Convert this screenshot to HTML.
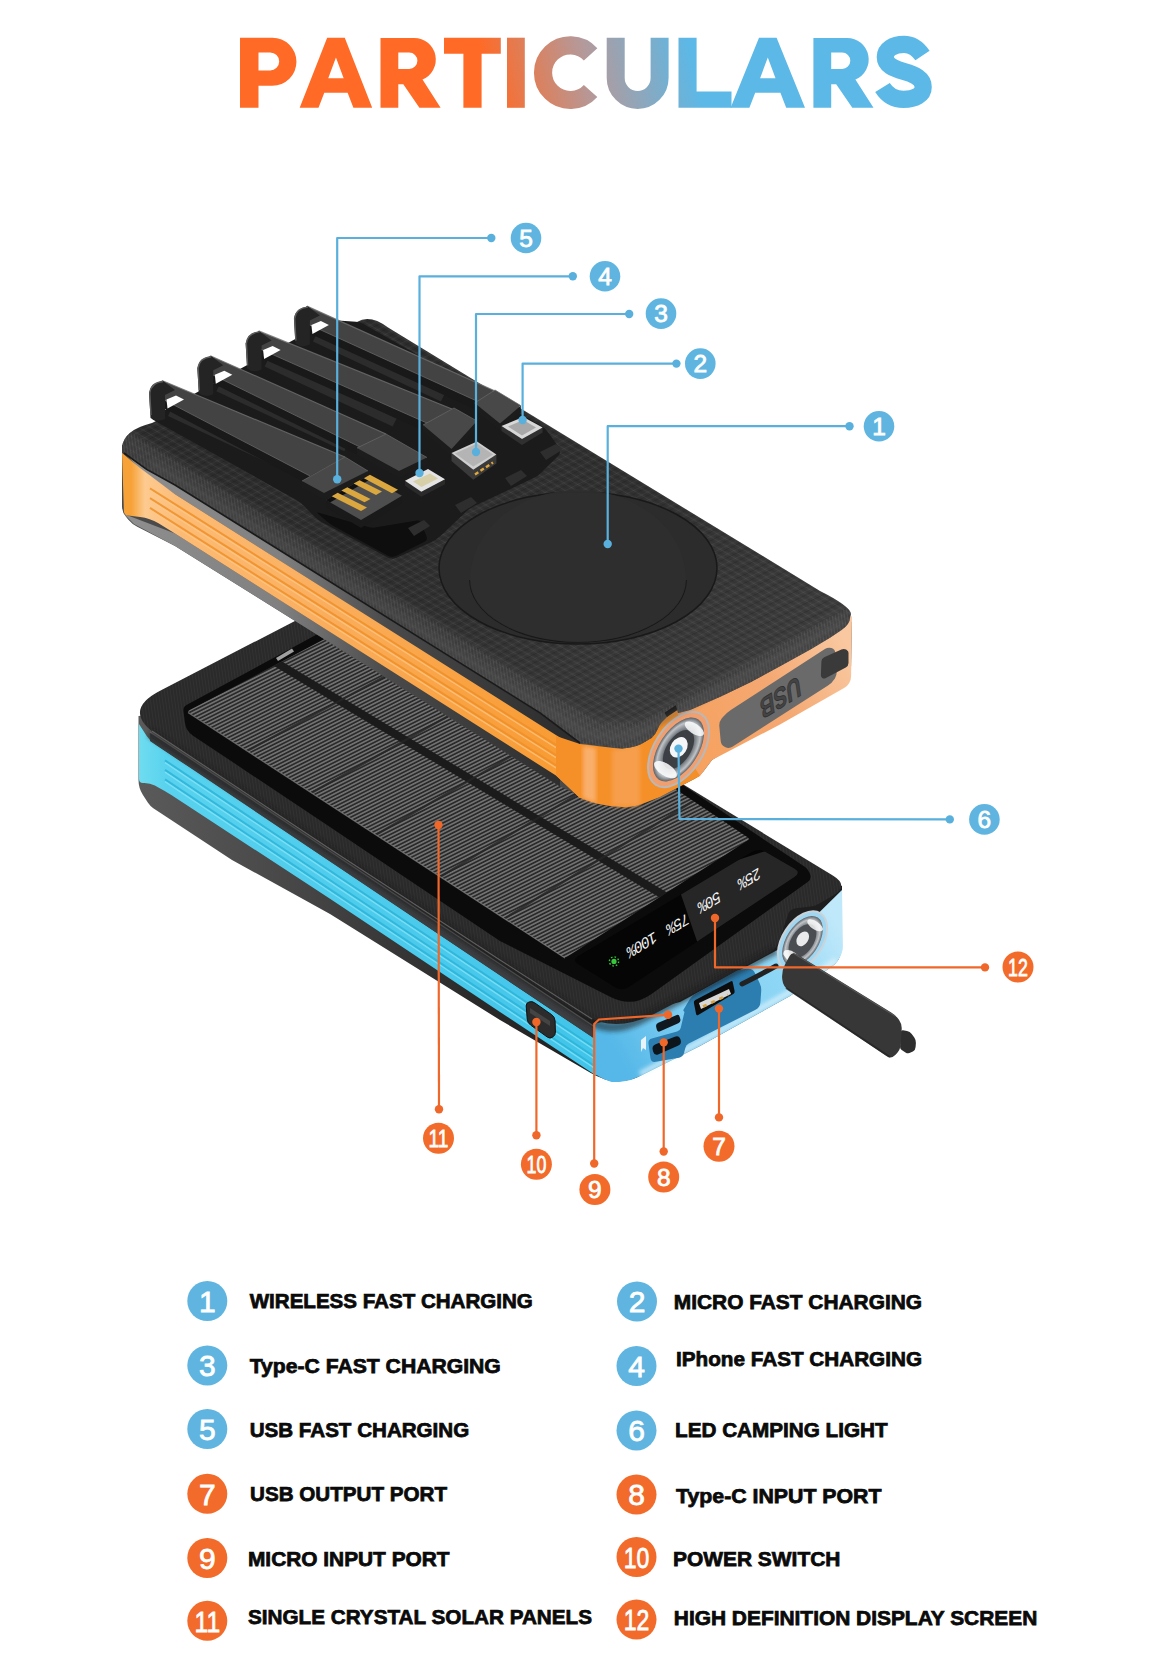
<!DOCTYPE html>
<html><head><meta charset="utf-8"><title>Particulars</title>
<style>
html,body{margin:0;padding:0;background:#fff;}
body{width:1170px;height:1671px;overflow:hidden;font-family:"Liberation Sans",sans-serif;}
svg{display:block;font-family:"Liberation Sans",sans-serif;}
</style></head><body>
<svg width="1170" height="1671" viewBox="0 0 1170 1671">
<defs>
<linearGradient id="tg" gradientUnits="userSpaceOnUse" x1="490" y1="95" x2="690" y2="50">
<stop offset="0" stop-color="#ff6a26"/><stop offset="0.5" stop-color="#b39a9c"/><stop offset="1" stop-color="#5cb8e6"/>
</linearGradient>

<pattern id="solar" width="3.9" height="10" patternUnits="userSpaceOnUse" patternTransform="matrix(0.851,0.525,-0.894,0.447,0,0)">
<rect width="3.9" height="10" fill="#2a2a2a"/><rect x="0" width="1.9" height="10" fill="#727272"/>
</pattern>
<pattern id="hatch" width="9" height="7" patternUnits="userSpaceOnUse" patternTransform="matrix(0.857,0.515,0.894,-0.447,0,0)">
<rect width="9" height="7" fill="none"/><rect width="9" height="1.1" fill="#fff" opacity="0.05"/><rect width="1.1" height="7" fill="#fff" opacity="0.045"/><rect x="4" width="1.2" height="7" fill="#000" opacity="0.13"/><rect y="3.4" width="9" height="1.1" fill="#000" opacity="0.11"/>
</pattern>
<linearGradient id="frontbevel" gradientUnits="userSpaceOnUse" x1="300" y1="563" x2="287" y2="584">
<stop offset="0" stop-color="#5a5a5a" stop-opacity="0"/><stop offset="0.55" stop-color="#5c5c5c" stop-opacity="0.55"/><stop offset="1" stop-color="#3a3a3a" stop-opacity="0.3"/>
</linearGradient>
<pattern id="brush" width="3" height="40" patternUnits="userSpaceOnUse" patternTransform="rotate(-8)">
<rect x="0" width="1" height="40" fill="#fff" opacity="0.06"/><rect x="1.6" width="0.8" height="40" fill="#000" opacity="0.15"/>
</pattern>
<linearGradient id="blueside" x1="0" y1="0" x2="1" y2="0">
<stop offset="0" stop-color="#6fdcf0"/><stop offset="0.06" stop-color="#58d2ee"/><stop offset="1" stop-color="#41c4ea"/>
</linearGradient>
<linearGradient id="orangeside" x1="0" y1="0" x2="1" y2="0">
<stop offset="0" stop-color="#f6a238"/><stop offset="0.02" stop-color="#f6a238"/><stop offset="0.05" stop-color="#fdca90"/><stop offset="0.13" stop-color="#fcbb74"/><stop offset="0.4" stop-color="#fab061"/><stop offset="0.75" stop-color="#f9a242"/><stop offset="1" stop-color="#f89a30"/>
</linearGradient>
<linearGradient id="blueR" gradientUnits="userSpaceOnUse" x1="620" y1="1060" x2="840" y2="930">
<stop offset="0" stop-color="#55b8e8"/><stop offset="0.3" stop-color="#7ecdf2"/><stop offset="0.7" stop-color="#8ed6f5"/><stop offset="1" stop-color="#bfe8fa"/>
</linearGradient>
<linearGradient id="orangeR" gradientUnits="userSpaceOnUse" x1="600" y1="790" x2="850" y2="650">
<stop offset="0" stop-color="#f58a1e"/><stop offset="0.25" stop-color="#f7a05a"/><stop offset="0.7" stop-color="#f4a872"/><stop offset="1" stop-color="#f9c8a0"/>
</linearGradient>
<linearGradient id="grayband" gradientUnits="userSpaceOnUse" x1="130" y1="0" x2="560" y2="0">
<stop offset="0" stop-color="#8e8e8e"/><stop offset="0.35" stop-color="#808080"/><stop offset="0.6" stop-color="#4a4a4a"/><stop offset="1" stop-color="#2e2e2e"/>
</linearGradient>
<linearGradient id="botband" gradientUnits="userSpaceOnUse" x1="140" y1="0" x2="620" y2="0">
<stop offset="0" stop-color="#5a5a5a"/><stop offset="0.35" stop-color="#454545"/><stop offset="0.7" stop-color="#2a2a2a"/><stop offset="1" stop-color="#1e1e1e"/>
</linearGradient>
<radialGradient id="led" cx="0.5" cy="0.5" r="0.5">
<stop offset="0" stop-color="#ffffff"/><stop offset="0.35" stop-color="#c8cdd2"/><stop offset="0.6" stop-color="#6a7076"/><stop offset="0.85" stop-color="#c0c4c8"/><stop offset="1" stop-color="#5a5f64"/>
</radialGradient>
<linearGradient id="topface" gradientUnits="userSpaceOnUse" x1="300" y1="330" x2="600" y2="760">
<stop offset="0" stop-color="#2c2c2c"/><stop offset="0.6" stop-color="#313131"/><stop offset="1" stop-color="#3c3c3c"/>
</linearGradient>
<filter id="soft" x="-5%" y="-5%" width="110%" height="110%"><feGaussianBlur stdDeviation="0.6"/></filter>
<filter id="blur2" x="-10%" y="-10%" width="120%" height="120%"><feGaussianBlur stdDeviation="2"/></filter>
<filter id="blur4" x="-20%" y="-20%" width="140%" height="140%"><feGaussianBlur stdDeviation="4"/></filter>

</defs>
<rect width="1170" height="1671" fill="#fff"/>
<g fill="url(#tg)" stroke="none">
<path fill-rule="evenodd" d="M240,37.7 H272.4 A24.05,24.05 0 0 1 272.4,85.8 H258.5 V107.8 H240 Z M258.5,52.4 H270.2 A9,9 0 0 1 270.2,70.4 H258.5 Z"/>
<path fill-rule="evenodd" d="M299.7,107.8 L327.15,37.7 H344.75 L372.2,107.8 H353.4 L347.59999999999997,92.8 H324.3 L318.5,107.8 Z M328.25,78.2 H343.65 L335.95,57.4 Z"/>
<path fill-rule="evenodd" d="M380.5,37.9 H414.2 A21.7,21.7 0 0 1 422.5,79.6 L440.6,107.8 H419.4 L403.3,84.2 H398.3 V107.8 H380.5 Z M398.3,52.6 H409.2 A8.2,8.2 0 0 1 409.2,69 H398.3 Z"/>
<path d="M444,37.7 H500.8 V53.8 H481.6 V107.8 H463.4 V53.8 H444 Z"/>
<rect x="507" y="37.7" width="17.8" height="70.1"/>
</g>
<path d="M590.6,54.4 A27.3,27.3 0 1 0 590.6,91.0" fill="none" stroke="url(#tg)" stroke-width="18.2"/>
<path d="M615.7,37.7 V78 A21.95,21.95 0 0 0 659.6,78 V37.7" fill="none" stroke="url(#tg)" stroke-width="18"/>
<g fill="url(#tg)">
<path d="M678.5,37.7 H696.6 V91.6 H731.5 V107.8 H678.5 Z"/>
<path fill-rule="evenodd" d="M730.6,107.8 L759.0,37.7 H776.5999999999999 L805,107.8 H786.2 L780.4,92.8 H755.2 L749.4,107.8 Z M760.0999999999999,78.2 H775.5 L767.8,57.4 Z"/>
<path fill-rule="evenodd" d="M813.4,37.9 H847.1 A21.7,21.7 0 0 1 855.4,79.6 L873.5,107.8 H852.3 L836.1999999999999,84.2 H831.1999999999999 V107.8 H813.4 Z M831.1999999999999,52.6 H842.1 A8.2,8.2 0 0 1 842.1,69 H831.1999999999999 Z"/>
</g>
<path d="M922.5,55.5 C917,47.5 911,44.3 904,44.3 C893,44.3 885.3,49.5 885.3,57 C885.3,65 893,68.3 904,71.5 C915,74.7 923.2,78.5 923.2,87 C923.2,95 915,99.4 903.5,99.4 C894.5,99.4 887.5,95.5 882.5,87.5" fill="none" stroke="url(#tg)" stroke-width="17.2"/>
<path d="M138.5,716.0 L138.5,780.0 Q138.5,788.0 142.8,794.7 L147.8,802.6 Q150.0,806.0 153.3,808.2 L232.0,860.0 L330.0,914.0 L500.0,1020.0 L590.8,1073.0 Q596.0,1076.0 601.6,1078.1 L604.5,1079.2 Q612.0,1082.0 620.0,1081.2 L626.0,1080.6 Q632.0,1080.0 637.4,1077.3 L700.0,1046.0 L790.0,996.0 L833.1,965.5 Q838.0,962.0 839.9,956.3 L840.7,953.8 Q842.0,950.0 842.0,946.0 L842.0,886.0 L700.0,840.0 L300.0,700.0 Z" fill="url(#botband)" />
<path d="M139.0,724.0 L146.7,736.0 Q150.0,741.0 155.0,744.3 L190.0,767.6 L600.0,1042.3 L606.0,1070.0 L596.0,1075.5 L500.0,1012.0 L330.0,898.8 L171.7,795.3 Q165.0,790.9 157.9,787.2 L154.9,785.6 Q150.0,783.0 144.5,783.0 L143.0,783.0 Q139.0,783.0 139.0,779.0 Z" fill="url(#blueside)" />
<path d="M165,760.4 L596,1048.7" stroke="#2cb4d8" stroke-width="2" opacity="0.85" fill="none"/>
<path d="M165,762.6 L596,1050.9" stroke="#8be6f6" stroke-width="1.4" opacity="0.7" fill="none"/>
<path d="M165,769.9 L596,1057.8" stroke="#2cb4d8" stroke-width="2" opacity="0.85" fill="none"/>
<path d="M165,772.1 L596,1060.0" stroke="#8be6f6" stroke-width="1.4" opacity="0.7" fill="none"/>
<path d="M165,779.4 L596,1066.9" stroke="#2cb4d8" stroke-width="2" opacity="0.85" fill="none"/>
<path d="M165,781.6 L596,1069.1" stroke="#8be6f6" stroke-width="1.4" opacity="0.7" fill="none"/>
<polygon points="150.0,732.0 600.0,1030.3 600.0,1042.3 190.0,767.6 150.0,741.0" fill="#3d3f42" />
<path d="M150,732 L600,1030.3" stroke="#8a8a8a" stroke-width="1.2" opacity="0.8"/>
<path d="M594.0,1024.0 L640.0,1012.0 L680.0,1002.0 L785.0,946.0 L842.0,890.0 L842.9,946.0 Q843.0,950.0 841.5,953.7 L840.3,956.5 Q838.0,962.0 833.1,965.5 L790.0,996.0 L700.0,1046.0 L639.2,1076.4 Q632.0,1080.0 624.1,1081.2 L619.9,1081.8 Q612.0,1083.0 604.8,1079.4 L599.4,1076.7 Q594.0,1074.0 594.0,1068.0 Z" fill="url(#blueR)" />
<path d="M640,1074 L700,1042 L790,992 L836,960" stroke="#e6f6fd" stroke-width="5" fill="none" opacity="0.75" filter="url(#blur2)"/>
<path d="M683.8,1011.2 Q683.0,1010.4 683.6,1009.5 L689.6,999.4 Q691.7,996.0 695.2,994.0 L735.4,971.2 Q738.0,969.7 741.0,969.4 L747.7,968.8 Q752.7,968.3 754.8,972.8 L759.8,983.4 Q761.5,987.0 761.2,991.0 L760.4,1002.5 Q760.0,1007.5 755.5,1009.8 L688.7,1043.6 Q686.0,1045.0 685.3,1047.9 L684.0,1053.1 Q683.0,1057.0 679.1,1057.7 L655.9,1061.8 Q651.0,1062.7 650.4,1057.7 L648.5,1043.5 Q648.0,1039.5 651.9,1038.5 L677.1,1031.6 Q680.0,1030.8 680.7,1027.9 L684.5,1012.0 Z" fill="#2c7db0" />
<path d="M693.9,1003.0 Q693.5,1001.0 695.3,1000.1 L730.6,981.4 Q732.4,980.5 732.8,982.5 L734.6,991.0 Q735.0,993.0 733.3,994.0 L698.2,1015.0 Q696.5,1016.0 696.1,1014.0 Z" fill="#0d0d0d" />
<polygon points="699.0,1003.0 729.0,989.0 731.0,994.0 701.0,1009.0" fill="#d8d8d8" />
<path d="M703,1006.5 L728,995" stroke="#d9a23c" stroke-width="2.6" stroke-dasharray="4 5"/>
<path d="M656.2,1026.9 Q655.5,1024.0 658.3,1022.8 L676.2,1015.2 Q679.0,1014.0 679.7,1016.9 L680.3,1019.1 Q681.0,1022.0 678.3,1023.2 L660.2,1031.3 Q657.5,1032.5 656.8,1029.6 Z" fill="#101820" />
<path d="M652.8,1050.3 Q651.5,1046.0 655.7,1044.3 L674.8,1036.7 Q679.0,1035.0 680.4,1039.3 L680.6,1039.7 Q682.0,1044.0 677.9,1045.8 L658.6,1054.2 Q654.5,1056.0 653.2,1051.7 Z" fill="#0c141c" />
<polygon points="641.0,1040.0 646.0,1036.0 646.0,1050.0 643.0,1048.0 641.0,1052.0" fill="#e8f4fa" />
<path d="M526.2,1006.0 Q526.0,1003.0 528.8,1002.1 L529.2,1001.9 Q532.0,1001.0 534.5,1002.7 L551.7,1014.7 Q555.0,1017.0 555.1,1021.0 L555.4,1032.0 Q555.5,1035.0 553.1,1036.8 L552.4,1037.2 Q550.0,1039.0 547.6,1037.3 L530.8,1025.3 Q527.5,1023.0 527.2,1019.0 Z" fill="#2c2c2c" stroke="#111" stroke-width="1"/>
<polygon points="530.0,1008.0 550.0,1021.0 550.0,1026.0 530.0,1013.0" fill="#444" />
<path d="M157.7,735.3 Q121.0,711.0 160.1,690.8 L372.0,581.0 L400.0,612.0 L832.8,875.5 Q850.0,886.0 832.5,896.0 L818.5,904.0 Q815.0,906.0 811.0,906.5 L796.0,908.3 Q790.0,909.0 788.1,914.7 L779.2,940.5 Q776.0,950.0 767.1,954.6 L654.5,1013.7 Q612.0,1036.0 572.0,1009.5 Z" fill="#2b2b2b" />
<path d="M157.7,735.3 Q121.0,711.0 160.1,690.8 L372.0,581.0 L400.0,612.0 L832.8,875.5 Q850.0,886.0 832.5,896.0 L818.5,904.0 Q815.0,906.0 811.0,906.5 L796.0,908.3 Q790.0,909.0 788.1,914.7 L779.2,940.5 Q776.0,950.0 767.1,954.6 L654.5,1013.7 Q612.0,1036.0 572.0,1009.5 Z" fill="url(#brush)" opacity="0.55"/>
<path d="M150,733 L330,851 L500,962.3 L590,1021 Q612,1034 640,1020 L776,950" fill="none" stroke="#1a1a1a" stroke-width="9" opacity="0.55" filter="url(#blur2)"/>
<path d="M152,731 L330,849 L500,960 L592,1019" fill="none" stroke="#777" stroke-width="1.1" opacity="0.7"/>
<path d="M183.5,711.0 Q183.0,707.0 186.5,705.1 L391.5,593.9 Q395.0,592.0 398.3,594.2 L804.7,866.8 Q808.0,869.0 809.5,872.7 L810.0,874.0 Q812.0,879.0 807.6,882.1 L651.5,994.0 Q632.0,1008.0 610.6,997.1 L500.0,941.0 L330.0,827.0 L192.7,735.4 Q186.0,731.0 185.0,723.1 Z" fill="#0b0b0b" />
<path d="M189.5,713.1 Q187.0,711.5 189.7,710.1 L392.9,603.0 Q395.6,601.6 398.1,603.3 L747.5,837.3 Q750.0,839.0 747.5,840.6 L567.5,956.4 Q565.0,958.0 562.5,956.4 Z" fill="url(#solar)" />
<clipPath id="solclip"><path d="M189.5,713.1 Q187.0,711.5 189.7,710.1 L392.9,603.0 Q395.6,601.6 398.1,603.3 L747.5,837.3 Q750.0,839.0 747.5,840.6 L567.5,956.4 Q565.0,958.0 562.5,956.4 Z"/></clipPath>
<path clip-path="url(#solclip)" d="M243,642.8 L680,905" fill="none" stroke="#1b1b1b" stroke-width="8"/>
<path d="M247.5,750.9 L452.3,639.6" stroke="#262626" stroke-width="2.2" opacity="0.8"/>
<path d="M311.7,792.8 L512.6,679.9" stroke="#262626" stroke-width="2.2" opacity="0.8"/>
<path d="M376.0,834.8 L572.8,720.3" stroke="#262626" stroke-width="2.2" opacity="0.8"/>
<path d="M440.3,876.7 L633.0,760.7" stroke="#262626" stroke-width="2.2" opacity="0.8"/>
<path d="M504.5,918.6 L693.3,801.0" stroke="#262626" stroke-width="2.2" opacity="0.8"/>
<path d="M188,712.5 L565,958" stroke="#8a8a8a" stroke-width="1.2" opacity="0.7"/>
<polygon points="276.0,658.0 292.0,648.5 294.0,651.5 278.0,661.0" fill="#a0a0a0" />
<path d="M578.3,964.2 Q571.5,960.0 578.4,955.9 L751.9,852.0 Q758.8,847.9 765.7,851.9 L794.3,868.5 Q801.2,872.5 794.5,876.9 L628.7,987.1 Q622.0,991.5 615.2,987.3 Z" fill="#050505" />
<clipPath id="dclip"><path d="M578.3,964.2 Q571.5,960.0 578.4,955.9 L751.9,852.0 Q758.8,847.9 765.7,851.9 L794.3,868.5 Q801.2,872.5 794.5,876.9 L628.7,987.1 Q622.0,991.5 615.2,987.3 Z"/></clipPath>
<polygon clip-path="url(#dclip)" points="676,880 700,950 830,900 800,840" fill="#262626"/>
<text transform="translate(748.5,873.5) rotate(149) skewX(-18)" font-size="15.5" fill="#f4f4f4" text-anchor="middle" font-family="Liberation Mono" letter-spacing="-1.2">25%</text>
<text transform="translate(708.5,897) rotate(149) skewX(-18)" font-size="15.5" fill="#f4f4f4" text-anchor="middle" font-family="Liberation Mono" letter-spacing="-1.2">50%</text>
<text transform="translate(677,919) rotate(149) skewX(-18)" font-size="15.5" fill="#f4f4f4" text-anchor="middle" font-family="Liberation Mono" letter-spacing="-1.2">75%</text>
<text transform="translate(641,939.5) rotate(149) skewX(-18)" font-size="15.5" fill="#f4f4f4" text-anchor="middle" font-family="Liberation Mono" letter-spacing="-1.2">100%</text>
<circle cx="614" cy="961.4" r="2.6" fill="#37c83c"/><circle cx="614" cy="961.4" r="4.6" fill="none" stroke="#37c83c" stroke-width="1.4" stroke-dasharray="1.6 2"/>
<g transform="translate(802.5,941) rotate(-57)"><ellipse rx="33" ry="20" fill="#9fd6f2"/><ellipse rx="33" ry="20" fill="none" stroke="#c9d3da" stroke-width="2"/><ellipse rx="28" ry="16" fill="url(#led)"/><ellipse rx="19" ry="11" fill="#4a4e52"/><ellipse cx="2" cy="-1" rx="8" ry="5.5" fill="#e8eaec"/><ellipse cx="-19" cy="0" rx="5" ry="10" fill="#fff" opacity="0.85"/><ellipse cx="20" cy="2" rx="4" ry="9" fill="#fff" opacity="0.8"/></g>
<path d="M900.9,1032.0 Q901.0,1030.0 903.0,1030.3 L907.0,1031.0 Q910.0,1031.5 911.7,1034.0 L914.3,1037.5 Q916.0,1040.0 915.9,1043.0 L915.6,1047.0 Q915.5,1050.0 912.9,1051.4 L910.6,1052.6 Q908.0,1054.0 905.5,1052.4 L901.7,1050.1 Q900.0,1049.0 900.1,1047.0 Z" fill="#2e2e2e" />
<path d="M789.6,955.9 Q792.0,951.5 796.3,954.1 L891.2,1012.4 Q895.5,1015.0 898.4,1019.1 L899.1,1019.9 Q902.0,1024.0 901.7,1029.0 L900.9,1043.5 Q900.5,1050.0 895.8,1054.5 L894.6,1055.6 Q891.0,1059.0 886.8,1056.2 L788.8,990.4 Q783.0,986.5 782.3,979.5 L782.2,978.8 Q781.5,971.0 785.2,964.1 Z" fill="#373737" />
<path d="M793,953 L895,1016" stroke="#5c5c5c" stroke-width="1.2" opacity="0.8"/>
<path d="M786,988 L890,1057" stroke="#222" stroke-width="2" opacity="0.7"/>
<path d="M776,966 Q760,975 742,984" stroke="#222" stroke-width="5" fill="none" stroke-linecap="round"/>
<path d="M122.0,445.0 L122.0,506.0 Q122.0,512.0 125.8,516.6 L128.2,519.4 Q132.0,524.0 137.3,526.7 L175.0,546.0 L560.0,786.6 L590.9,800.8 Q600.0,805.0 610.0,805.9 L622.0,807.1 Q632.0,808.0 641.3,804.3 L660.0,797.0 L694.7,778.8 Q700.0,776.0 703.6,771.2 L712.0,760.0 L845.9,675.2 Q851.0,672.0 851.1,666.0 L852.0,622.0 L600.0,480.0 L300.0,420.0 Z" fill="#4a4a4a" />
<polygon points="124.0,514.0 175.0,533.6 560.0,778.1 560.0,786.6 175.0,546.0 134.0,524.0" fill="url(#grayband)" />
<polygon points="124.0,452.0 175.0,485.0 580.0,737.7 580.0,750.3 175.0,494.3 140.0,470.0" fill="url(#grayband)" />
<path d="M122.0,453.0 L133.9,462.9 Q140.0,468.0 146.4,472.8 L175.0,494.3 L572.0,745.2 L580.0,745.0 L580.0,798.0 L556.0,775.5 L175.0,533.6 L158.5,523.3 Q150.0,518.0 140.1,516.9 L128.0,515.5 Q124.0,515.0 123.9,511.0 Z" fill="url(#orangeside)" />
<path d="M150,488.3 L556,745.2" stroke="#ef8f28" stroke-width="2" opacity="0.85" fill="none"/>
<path d="M150,490.7 L556,747.6" stroke="#ffc98a" stroke-width="1.4" opacity="0.7" fill="none"/>
<path d="M150,498.1 L556,755.3" stroke="#ef8f28" stroke-width="2" opacity="0.85" fill="none"/>
<path d="M150,500.5 L556,757.7" stroke="#ffc98a" stroke-width="1.4" opacity="0.7" fill="none"/>
<path d="M150,507.9 L556,765.4" stroke="#ef8f28" stroke-width="2" opacity="0.85" fill="none"/>
<path d="M150,510.3 L556,767.8" stroke="#ffc98a" stroke-width="1.4" opacity="0.7" fill="none"/>
<path d="M556.0,736.1 L580.0,744.0 L616.0,748.3 Q622.0,749.0 627.7,747.2 L642.3,742.8 Q648.0,741.0 651.6,736.2 L662.0,722.0 L676.0,708.0 L700.0,776.0 L660.0,797.0 L641.3,804.3 Q632.0,808.0 622.0,807.1 L610.0,805.9 Q600.0,805.0 590.6,801.7 L580.0,798.0 L556.0,775.5 Z" fill="#f58f28" />
<path d="M583,746 L583,798 L596,803 L596,748 Z" fill="#fbb87e" opacity="0.8" filter="url(#blur2)"/>
<path d="M612,750 L612,806 L640,806 L640,745 Z" fill="#f7a55c" opacity="0.7" filter="url(#blur2)"/>
<path d="M676.0,708.0 L751.0,676.0 L842.0,624.0 L852.0,616.0 L851.1,676.0 Q851.0,684.0 844.1,688.0 L780.0,724.5 L712.0,760.0 L700.0,776.0 L690.0,760.0 Z" fill="url(#orangeR)" />
<path d="M719.3,726.0 Q719.0,722.0 721.5,718.8 L722.5,717.5 Q726.0,713.0 730.8,709.9 L824.9,649.0 Q828.0,647.0 831.5,648.0 L831.5,648.0 Q835.0,649.0 835.3,652.6 L836.7,671.0 Q837.0,675.0 834.9,678.4 L834.5,679.0 Q832.0,683.0 828.0,685.5 L732.8,746.6 Q729.0,749.0 725.0,747.0 L724.6,746.8 Q721.0,745.0 720.7,741.0 Z" fill="#6a6a6a" />
<text transform="translate(779,688) rotate(148) skewX(-24)" font-size="26" font-weight="bold" fill="#444" stroke="#2e2e2e" stroke-width="0.7" text-anchor="middle" textLength="47" lengthAdjust="spacingAndGlyphs">USB</text>
<path d="M821.4,661.5 Q821.5,658.5 824.2,657.3 L841.4,649.6 Q843.8,648.5 846.1,649.6 L846.7,649.9 Q848.5,650.8 848.5,652.8 L848.5,663.0 Q848.5,666.0 845.8,667.4 L825.4,678.2 Q823.8,679.0 822.3,678.0 L822.3,678.0 Q820.8,677.0 820.9,675.2 Z" fill="#3a3a3a" />
<polygon points="661.0,707.0 672.0,700.5 679.0,709.0 667.0,717.0" fill="#1e1e1e" />
<g transform="translate(678.5,749.5) rotate(-57)"><ellipse rx="42" ry="24" fill="#f0a070"/><ellipse rx="42" ry="24" fill="none" stroke="#b9b9b9" stroke-width="2"/><ellipse rx="36" ry="19.5" fill="url(#led)"/><ellipse rx="22" ry="12" fill="#3c4044"/><ellipse cx="2" cy="-1" rx="11" ry="8" fill="#f4f6f8"/><ellipse cx="-24" cy="0" rx="6" ry="13" fill="#fff" opacity="0.85"/><ellipse cx="26" cy="2" rx="5" ry="11" fill="#fff" opacity="0.8"/></g>
<path d="M122,452 L122,447 Q124,430 152,423 L357,322 Q370,314 388,327.5 L820,591 Q850,606 851,614 L850,618 Q850,624 841.5,630 L830,637.7 L810.8,649.2 L780,666.2 L751,682 L720.8,696.5 L690,710 L678,713 L676,705 L664,713 L660,722.7 Q656,737 648,740 Q636,748.5 622,748.4 L580,743 L540,712.8 L175,485 L146.6,469.4 Z" fill="url(#topface)" />
<path d="M122,452 L122,447 Q124,430 152,423 L357,322 Q370,314 388,327.5 L820,591 Q850,606 851,614 L850,618 Q850,624 841.5,630 L830,637.7 L810.8,649.2 L780,666.2 L751,682 L720.8,696.5 L690,710 L678,713 L676,705 L664,713 L660,722.7 Q656,737 648,740 Q636,748.5 622,748.4 L580,743 L540,712.8 L175,485 L146.6,469.4 Z" fill="url(#hatch)" />
<clipPath id="tfclip"><path d="M122,452 L122,447 Q124,430 152,423 L357,322 Q370,314 388,327.5 L820,591 Q850,606 851,614 L850,618 Q850,624 841.5,630 L830,637.7 L810.8,649.2 L780,666.2 L751,682 L720.8,696.5 L690,710 L678,713 L676,705 L664,713 L660,722.7 Q656,737 648,740 Q636,748.5 622,748.4 L580,743 L540,712.8 L175,485 L146.6,469.4 Z"/></clipPath>
<g clip-path="url(#tfclip)">
<path d="M120,425 L175,459 L540,687 L600,722 L640,722 L850,606 L860,640 L640,760 L560,740 L110,465 Z" fill="#555" opacity="0.5" filter="url(#blur4)"/>
<path d="M120,425 L175,459 L540,687 L600,722 L640,722 L850,606 L860,640 L640,760 L560,740 L110,465 Z" fill="url(#brush)" opacity="0.9"/>
<path d="M380,318 L860,610" stroke="#666" stroke-width="6" opacity="0.45" filter="url(#blur2)"/>
</g>
<path d="M150,462 L540,705 L585,733 Q620,742 650,728 L842,622" fill="none" stroke="#555" stroke-width="7" opacity="0.35" filter="url(#blur2)"/>
<path d="M124,453 L146.6,469.4 L175,485 L540,712.8 L580,743" fill="none" stroke="#1a1a1a" stroke-width="1.6"/>
<path d="M153.5,420.0 Q150.0,418.0 153.5,416.1 L326.5,321.9 Q330.0,320.0 334.0,320.3 L356.0,321.7 Q360.0,322.0 363.5,324.0 L541.5,426.0 Q545.0,428.0 547.3,431.3 L558.5,447.1 Q562.0,452.0 557.8,456.2 L542.2,471.8 Q538.0,476.0 532.6,478.6 L473.6,506.3 Q470.0,508.0 467.1,510.7 L440.4,535.9 Q436.0,540.0 430.5,542.5 L397.5,557.5 Q392.0,560.0 386.7,557.1 L321.5,521.9 Q318.0,520.0 315.2,517.2 L302.8,504.8 Q300.0,502.0 296.5,500.0 Z" fill="#1b1b1b" />
<path d="M318.3,514.0 Q316.0,512.0 318.9,512.8 L369.1,527.2 Q372.0,528.0 375.0,527.5 L417.0,520.5 Q420.0,520.0 421.1,522.8 L426.5,536.3 Q428.0,540.0 424.4,541.8 L396.5,555.8 Q392.0,558.0 387.6,555.6 L332.6,525.4 Q330.0,524.0 327.7,522.0 Z" fill="#0e0e0e" />
<polygon points="172.0,408.0 300.0,468.0 296.0,476.0 168.0,416.0" fill="#2c2c2c" />
<polygon points="220.3,383.2 348.3,443.2 344.3,451.2 216.3,391.2" fill="#2c2c2c" />
<polygon points="268.6,358.4 396.6,418.4 392.6,426.4 264.6,366.4" fill="#2c2c2c" />
<polygon points="316.9,333.6 444.9,393.6 440.9,401.6 312.9,341.6" fill="#2c2c2c" />
<polygon points="294.9,318.2 479.0,402.0 479.0,411.0 295.9,327.2" fill="#191919" />
<polygon points="306.9,306.1 494.0,390.5 479.0,402.0 294.9,318.2" fill="#434343" />
<path d="M306.9,306.1 L494,390.5" stroke="#707070" stroke-width="1.2" opacity="0.8"/>
<path d="M294.9,318.20000000000005 L479,402" stroke="#666" stroke-width="1" opacity="0.8"/>
<path d="M307.9,306.6 Q295.9,307.6 293.9,318.6 L295.4,343.6 Q301.9,348.6 309.9,344.6 L309.9,320.6 L319.9,315.6 Z" fill="#242424"/>
<path d="M307.9,307.1 Q295.9,308.1 294.7,318.6 L295.9,340.6" stroke="#5c5c5c" stroke-width="1.4" fill="none"/>
<path d="M311.4,325.1 L320.9,321.1 L328.9,325.1 L312.4,334.1 Z" fill="#fff"/>
<polygon points="474.6,403.0 500.0,423.6 520.8,405.6 520.8,412.6 500.0,430.6 474.6,410.0" fill="#1c1c1c" />
<polygon points="474.6,403.0 495.0,390.0 520.8,405.6 500.0,423.6" fill="#484848" />
<path d="M474.6,403 L495,390 L520.8,405.6" stroke="#6a6a6a" stroke-width="1" fill="none" opacity="0.7"/>
<polygon points="246.6,343.0 428.0,423.5 428.0,432.5 247.6,352.0" fill="#191919" />
<polygon points="258.6,330.9 452.0,409.0 428.0,423.5 246.6,343.0" fill="#434343" />
<path d="M258.6,330.9 L452,409" stroke="#707070" stroke-width="1.2" opacity="0.8"/>
<path d="M246.6,343.0 L428,423.5" stroke="#666" stroke-width="1" opacity="0.8"/>
<path d="M259.6,331.4 Q247.6,332.4 245.6,343.4 L247.1,368.4 Q253.6,373.4 261.6,369.4 L261.6,345.4 L271.6,340.4 Z" fill="#242424"/>
<path d="M259.6,331.9 Q247.6,332.9 246.4,343.4 L247.6,365.4" stroke="#5c5c5c" stroke-width="1.4" fill="none"/>
<path d="M263.1,349.9 L272.6,345.9 L280.6,349.9 L264.1,358.9 Z" fill="#fff"/>
<polygon points="423.0,425.0 451.5,449.0 477.0,421.0 477.0,428.0 451.5,456.0 423.0,432.0" fill="#1c1c1c" />
<polygon points="423.0,425.0 454.0,408.0 477.0,421.0 451.5,449.0" fill="#484848" />
<path d="M423,425 L454,408 L477,421" stroke="#6a6a6a" stroke-width="1" fill="none" opacity="0.7"/>
<polygon points="198.3,367.8 361.0,447.5 361.0,456.5 199.3,376.8" fill="#191919" />
<polygon points="210.3,355.7 386.0,434.0 361.0,447.5 198.3,367.8" fill="#434343" />
<path d="M210.3,355.7 L386,434" stroke="#707070" stroke-width="1.2" opacity="0.8"/>
<path d="M198.3,367.8 L361,447.5" stroke="#666" stroke-width="1" opacity="0.8"/>
<path d="M211.3,356.2 Q199.3,357.2 197.3,368.2 L198.8,393.2 Q205.3,398.2 213.3,394.2 L213.3,370.2 L223.3,365.2 Z" fill="#242424"/>
<path d="M211.3,356.7 Q199.3,357.7 198.10000000000002,368.2 L199.3,390.2" stroke="#5c5c5c" stroke-width="1.4" fill="none"/>
<path d="M214.8,374.7 L224.3,370.7 L232.3,374.7 L215.8,383.7 Z" fill="#fff"/>
<polygon points="357.0,448.0 399.0,471.0 427.0,457.5 427.0,464.5 399.0,478.0 357.0,455.0" fill="#1c1c1c" />
<polygon points="357.0,448.0 386.0,434.0 427.0,457.5 399.0,471.0" fill="#484848" />
<path d="M357,448 L386,434 L427,457.5" stroke="#6a6a6a" stroke-width="1" fill="none" opacity="0.7"/>
<polygon points="150.0,392.6 310.0,476.0 310.0,485.0 151.0,401.6" fill="#191919" />
<polygon points="162.0,380.5 345.0,457.0 310.0,476.0 150.0,392.6" fill="#434343" />
<path d="M162.0,380.5 L345,457" stroke="#707070" stroke-width="1.2" opacity="0.8"/>
<path d="M150.0,392.6 L310,476" stroke="#666" stroke-width="1" opacity="0.8"/>
<path d="M163.0,381.0 Q151.0,382.0 149.0,393.0 L150.5,418.0 Q157.0,423.0 165.0,419.0 L165.0,395.0 L175.0,390.0 Z" fill="#242424"/>
<path d="M163.0,381.5 Q151.0,382.5 149.8,393.0 L151.0,415.0" stroke="#5c5c5c" stroke-width="1.4" fill="none"/>
<path d="M166.5,399.5 L176.0,395.5 L184.0,399.5 L167.5,408.5 Z" fill="#fff"/>
<polygon points="302.0,481.0 324.0,493.0 368.0,471.0 368.0,478.0 324.0,500.0 302.0,488.0" fill="#1c1c1c" />
<polygon points="302.0,481.0 345.0,457.0 368.0,471.0 324.0,493.0" fill="#484848" />
<path d="M302,481 L345,457 L368,471" stroke="#6a6a6a" stroke-width="1" fill="none" opacity="0.7"/>
<polygon points="326.0,500.0 361.0,520.0 402.0,495.8 402.0,502.8 361.0,528.0 326.0,507.0" fill="#1a1a1a" />
<polygon points="326.0,500.0 366.6,476.6 402.0,495.8 361.0,520.0" fill="#4e4e4e" />
<polygon points="326.0,500.0 366.6,476.6 371.0,479.0 330.0,502.5" fill="#101010" />
<polygon points="331.7,496.2 337.7,492.8 367.0,507.6 361.0,511.0" fill="#dba83f" />
<polygon points="341.3,490.6 347.3,487.2 370.5,498.9 364.5,502.3" fill="#dba83f" />
<polygon points="353.6,483.6 359.6,480.2 382.0,491.6 376.0,495.0" fill="#dba83f" />
<polygon points="363.9,478.2 369.9,474.8 398.0,489.8 392.0,493.2" fill="#dba83f" />
<polygon points="405.0,480.7 421.3,491.7 445.0,479.3 445.0,484.3 421.3,496.7 405.0,485.7" fill="#2a2a2a" />
<polygon points="405.0,480.7 428.0,469.0 445.0,479.3 421.3,491.7" fill="#e4e4e4" />
<polygon points="413.0,481.5 430.0,473.5 438.0,478.5 421.5,487.0" fill="#d6cfa8" />
<polygon points="451.5,453.0 473.3,469.7 496.4,454.4 496.4,463.4 473.3,479.7 451.5,461.0" fill="#3a3a3a" />
<polygon points="451.5,453.0 477.0,441.5 496.4,454.4 473.3,469.7" fill="#cfcfcf" />
<polygon points="455.0,453.5 477.0,443.5 493.0,454.4 473.3,466.5" fill="#b4b4b4" />
<path d="M475,474.5 L493,462.5" stroke="#e0a63c" stroke-width="2.4" stroke-dasharray="4 2.6"/>
<polygon points="501.5,426.0 522.0,439.0 542.6,427.4 542.6,432.4 522.0,445.0 501.5,431.0" fill="#303030" />
<polygon points="501.5,426.0 523.3,417.0 542.6,427.4 522.0,439.0" fill="#d8d8d8" />
<polygon points="508.0,426.5 523.3,420.0 536.0,427.4 522.0,435.5" fill="#a8a8a8" />
<polygon points="408.0,528.0 424.0,520.0 430.0,526.0 414.0,536.0" fill="#2e2e2e" />
<polygon points="455.0,505.0 471.0,497.0 477.0,503.0 461.0,513.0" fill="#2e2e2e" />
<polygon points="505.0,478.0 521.0,470.0 527.0,476.0 511.0,486.0" fill="#2e2e2e" />
<polygon points="540.0,452.0 556.0,444.0 562.0,450.0 546.0,460.0" fill="#2e2e2e" />
<ellipse cx="578" cy="568" rx="139" ry="76" fill="#2c2c2c" stroke="#191919" stroke-width="1.5"/>
<path d="M470,580 A108,62 0 0 0 686,580" fill="none" stroke="#171717" stroke-width="1.6"/>
<path d="M470,580 A108,62 0 0 0 686,580 A108,90 0 0 0 470,580 Z" fill="#2f2f2f" opacity="0.9"/>
<path d="M337.2,479.3 L337.2,238 L491.3,238" fill="none" stroke="#5ab0dc" stroke-width="2.2" stroke-linejoin="round"/>
<circle cx="337.2" cy="479.3" r="4.2" fill="#5ab0dc"/>
<circle cx="491.3" cy="238" r="4.2" fill="#5ab0dc"/>
<circle cx="526" cy="238" r="15.3" fill="#5fb5e0"/><text x="526" y="246.7" font-size="24.5" fill="#fff" stroke="#fff" stroke-width="0.8" text-anchor="middle">5</text>
<path d="M419.5,473 L419.5,276.3 L572.8,276.3" fill="none" stroke="#5ab0dc" stroke-width="2.2" stroke-linejoin="round"/>
<circle cx="419.5" cy="473" r="4.2" fill="#5ab0dc"/>
<circle cx="572.8" cy="276.3" r="4.2" fill="#5ab0dc"/>
<circle cx="605" cy="276.2" r="15.3" fill="#5fb5e0"/><text x="605" y="284.9" font-size="24.5" fill="#fff" stroke="#fff" stroke-width="0.8" text-anchor="middle">4</text>
<path d="M476,452 L476,314 L629.2,314" fill="none" stroke="#5ab0dc" stroke-width="2.2" stroke-linejoin="round"/>
<circle cx="476" cy="452" r="4.2" fill="#5ab0dc"/>
<circle cx="629.2" cy="314" r="4.2" fill="#5ab0dc"/>
<circle cx="661" cy="313.6" r="15.3" fill="#5fb5e0"/><text x="661" y="322.3" font-size="24.5" fill="#fff" stroke="#fff" stroke-width="0.8" text-anchor="middle">3</text>
<path d="M522.6,420 L522.6,363.6 L676.4,363.6" fill="none" stroke="#5ab0dc" stroke-width="2.2" stroke-linejoin="round"/>
<circle cx="522.6" cy="420" r="4.2" fill="#5ab0dc"/>
<circle cx="676.4" cy="363.6" r="4.2" fill="#5ab0dc"/>
<circle cx="700.3" cy="363.6" r="15.3" fill="#5fb5e0"/><text x="700.3" y="372.3" font-size="24.5" fill="#fff" stroke="#fff" stroke-width="0.8" text-anchor="middle">2</text>
<path d="M607.7,544 L607.7,426.2 L849.5,426.2" fill="none" stroke="#5ab0dc" stroke-width="2.2" stroke-linejoin="round"/>
<circle cx="607.7" cy="544" r="4.2" fill="#5ab0dc"/>
<circle cx="849.5" cy="426.2" r="4.2" fill="#5ab0dc"/>
<circle cx="879" cy="426.2" r="15.3" fill="#5fb5e0"/><text x="879" y="434.9" font-size="24.5" fill="#fff" stroke="#fff" stroke-width="0.8" text-anchor="middle">1</text>
<path d="M678.5,748.6 L679.5,819 L949.8,819.4" fill="none" stroke="#5ab0dc" stroke-width="2.2" stroke-linejoin="round"/>
<circle cx="678.5" cy="748.6" r="4.2" fill="#5ab0dc"/>
<circle cx="949.8" cy="819.4" r="4.2" fill="#5ab0dc"/>
<circle cx="984.4" cy="819.4" r="15.3" fill="#5fb5e0"/><text x="984.4" y="828.1" font-size="24.5" fill="#fff" stroke="#fff" stroke-width="0.8" text-anchor="middle">6</text>
<path d="M438.5,825 L439,1109.3" fill="none" stroke="#f0672a" stroke-width="2.2" stroke-linejoin="round"/>
<circle cx="438.5" cy="825" r="4.2" fill="#f0672a"/>
<circle cx="439" cy="1109.3" r="4.2" fill="#f0672a"/>
<circle cx="438.5" cy="1138.2" r="15.5" fill="#f26b2b"/><text x="438.5" y="1146.9" font-size="24.5" fill="#fff" stroke="#fff" stroke-width="0.8" text-anchor="middle" textLength="19.8" lengthAdjust="spacingAndGlyphs">11</text>
<path d="M536.4,1022 L536.4,1135.2" fill="none" stroke="#f0672a" stroke-width="2.2" stroke-linejoin="round"/>
<circle cx="536.4" cy="1022" r="4.2" fill="#f0672a"/>
<circle cx="536.4" cy="1135.2" r="4.2" fill="#f0672a"/>
<circle cx="536.4" cy="1164.2" r="15.5" fill="#f26b2b"/><text x="536.4" y="1172.9" font-size="24.5" fill="#fff" stroke="#fff" stroke-width="0.8" text-anchor="middle" textLength="19.8" lengthAdjust="spacingAndGlyphs">10</text>
<path d="M668,1014.8 L599,1019.5 L594.2,1024 L594.2,1163.5" fill="none" stroke="#f0672a" stroke-width="2.2" stroke-linejoin="round"/>
<circle cx="668" cy="1014.8" r="4.2" fill="#f0672a"/>
<circle cx="594.2" cy="1163.5" r="4.2" fill="#f0672a"/>
<circle cx="594.9" cy="1189.5" r="15.5" fill="#f26b2b"/><text x="594.9" y="1198.2" font-size="24.5" fill="#fff" stroke="#fff" stroke-width="0.8" text-anchor="middle">9</text>
<path d="M663.7,1042.4 L663.7,1151.5" fill="none" stroke="#f0672a" stroke-width="2.2" stroke-linejoin="round"/>
<circle cx="663.7" cy="1042.4" r="4.2" fill="#f0672a"/>
<circle cx="663.7" cy="1151.5" r="4.2" fill="#f0672a"/>
<circle cx="663.7" cy="1177" r="15.5" fill="#f26b2b"/><text x="663.7" y="1185.7" font-size="24.5" fill="#fff" stroke="#fff" stroke-width="0.8" text-anchor="middle">8</text>
<path d="M719,1008.6 L719,1117.4" fill="none" stroke="#f0672a" stroke-width="2.2" stroke-linejoin="round"/>
<circle cx="719" cy="1008.6" r="4.2" fill="#f0672a"/>
<circle cx="719" cy="1117.4" r="4.2" fill="#f0672a"/>
<circle cx="719" cy="1146.3" r="15.5" fill="#f26b2b"/><text x="719" y="1155.0" font-size="24.5" fill="#fff" stroke="#fff" stroke-width="0.8" text-anchor="middle">7</text>
<path d="M715,918 L715,967.4 L985,967.4" fill="none" stroke="#f0672a" stroke-width="2.2" stroke-linejoin="round"/>
<circle cx="715" cy="918" r="4.2" fill="#f0672a"/>
<circle cx="985" cy="967.4" r="4.2" fill="#f0672a"/>
<circle cx="1018" cy="967" r="15.5" fill="#f26b2b"/><text x="1018" y="975.7" font-size="24.5" fill="#fff" stroke="#fff" stroke-width="0.8" text-anchor="middle" textLength="19.8" lengthAdjust="spacingAndGlyphs">12</text>
<circle cx="207.3" cy="1301" r="20" fill="#5fb5e0"/><text x="207.3" y="1311.7" font-size="30" fill="#fff" stroke="#fff" stroke-width="0.8" text-anchor="middle">1</text>
<text x="249.7" y="1307.5" font-size="20.8" font-weight="bold" fill="#0a0a0a" stroke="#0a0a0a" stroke-width="0.75" textLength="283.1" lengthAdjust="spacingAndGlyphs">WIRELESS FAST CHARGING</text>
<circle cx="207.3" cy="1365.4" r="20" fill="#5fb5e0"/><text x="207.3" y="1376.1" font-size="30" fill="#fff" stroke="#fff" stroke-width="0.8" text-anchor="middle">3</text>
<text x="249.7" y="1373" font-size="20.8" font-weight="bold" fill="#0a0a0a" stroke="#0a0a0a" stroke-width="0.75" textLength="251.1" lengthAdjust="spacingAndGlyphs">Type-C FAST CHARGING</text>
<circle cx="207.3" cy="1429" r="20" fill="#5fb5e0"/><text x="207.3" y="1439.7" font-size="30" fill="#fff" stroke="#fff" stroke-width="0.8" text-anchor="middle">5</text>
<text x="249.7" y="1437.3" font-size="20.8" font-weight="bold" fill="#0a0a0a" stroke="#0a0a0a" stroke-width="0.75" textLength="219.5" lengthAdjust="spacingAndGlyphs">USB FAST CHARGING</text>
<circle cx="207.3" cy="1493.8" r="20" fill="#f26b2b"/><text x="207.3" y="1504.5" font-size="30" fill="#fff" stroke="#fff" stroke-width="0.8" text-anchor="middle">7</text>
<text x="250" y="1500.8" font-size="20.8" font-weight="bold" fill="#0a0a0a" stroke="#0a0a0a" stroke-width="0.75" textLength="197.0" lengthAdjust="spacingAndGlyphs">USB OUTPUT PORT</text>
<circle cx="207.3" cy="1558" r="20" fill="#f26b2b"/><text x="207.3" y="1568.7" font-size="30" fill="#fff" stroke="#fff" stroke-width="0.8" text-anchor="middle">9</text>
<text x="248" y="1565.8" font-size="20.8" font-weight="bold" fill="#0a0a0a" stroke="#0a0a0a" stroke-width="0.75" textLength="201.6" lengthAdjust="spacingAndGlyphs">MICRO INPUT PORT</text>
<circle cx="207.3" cy="1620.8" r="20" fill="#f26b2b"/><text x="207.3" y="1631.5" font-size="30" fill="#fff" stroke="#fff" stroke-width="0.8" text-anchor="middle" textLength="25.6" lengthAdjust="spacingAndGlyphs">11</text>
<text x="248" y="1623.5" font-size="20.8" font-weight="bold" fill="#0a0a0a" stroke="#0a0a0a" stroke-width="0.75" textLength="344.0" lengthAdjust="spacingAndGlyphs">SINGLE CRYSTAL SOLAR PANELS</text>
<circle cx="637" cy="1301.5" r="20" fill="#5fb5e0"/><text x="637" y="1312.2" font-size="30" fill="#fff" stroke="#fff" stroke-width="0.8" text-anchor="middle">2</text>
<text x="673.8" y="1308.5" font-size="20.8" font-weight="bold" fill="#0a0a0a" stroke="#0a0a0a" stroke-width="0.75" textLength="248.2" lengthAdjust="spacingAndGlyphs">MICRO FAST CHARGING</text>
<circle cx="636.5" cy="1366" r="20" fill="#5fb5e0"/><text x="636.5" y="1376.7" font-size="30" fill="#fff" stroke="#fff" stroke-width="0.8" text-anchor="middle">4</text>
<text x="676" y="1366" font-size="20.8" font-weight="bold" fill="#0a0a0a" stroke="#0a0a0a" stroke-width="0.75" textLength="246.0" lengthAdjust="spacingAndGlyphs">IPhone FAST CHARGING</text>
<circle cx="636.5" cy="1430.4" r="20" fill="#5fb5e0"/><text x="636.5" y="1441.1" font-size="30" fill="#fff" stroke="#fff" stroke-width="0.8" text-anchor="middle">6</text>
<text x="675" y="1436.5" font-size="20.8" font-weight="bold" fill="#0a0a0a" stroke="#0a0a0a" stroke-width="0.75" textLength="212.7" lengthAdjust="spacingAndGlyphs">LED CAMPING LIGHT</text>
<circle cx="636.5" cy="1494.6" r="20" fill="#f26b2b"/><text x="636.5" y="1505.2" font-size="30" fill="#fff" stroke="#fff" stroke-width="0.8" text-anchor="middle">8</text>
<text x="676" y="1503" font-size="20.8" font-weight="bold" fill="#0a0a0a" stroke="#0a0a0a" stroke-width="0.75" textLength="205.5" lengthAdjust="spacingAndGlyphs">Type-C INPUT PORT</text>
<circle cx="636.5" cy="1557" r="20" fill="#f26b2b"/><text x="636.5" y="1567.7" font-size="30" fill="#fff" stroke="#fff" stroke-width="0.8" text-anchor="middle" textLength="25.6" lengthAdjust="spacingAndGlyphs">10</text>
<text x="673" y="1565.8" font-size="20.8" font-weight="bold" fill="#0a0a0a" stroke="#0a0a0a" stroke-width="0.75" textLength="167.4" lengthAdjust="spacingAndGlyphs">POWER SWITCH</text>
<circle cx="636.5" cy="1619.6" r="20" fill="#f26b2b"/><text x="636.5" y="1630.2" font-size="30" fill="#fff" stroke="#fff" stroke-width="0.8" text-anchor="middle" textLength="25.6" lengthAdjust="spacingAndGlyphs">12</text>
<text x="673.8" y="1624.6" font-size="20.8" font-weight="bold" fill="#0a0a0a" stroke="#0a0a0a" stroke-width="0.75" textLength="363.5" lengthAdjust="spacingAndGlyphs">HIGH DEFINITION DISPLAY SCREEN</text>
</svg>
</body></html>
